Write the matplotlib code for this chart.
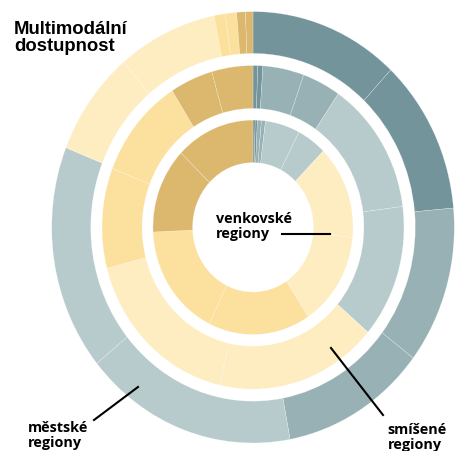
import matplotlib.pyplot as plt
from matplotlib.lines import Line2D

# Share of population by accessibility level, two sub-groups per level
levels = ['velmi vysoká', 'vysoká', 'střední', 'nízká', 'velmi nízká', 'žádná']
colors = ['#73949a', '#98b1b5', '#b7cbcc', '#feedc1', '#fce09d', '#dbb86d']

urban = [12.0, 11.6, 11.8, 11.7, 17.1, 16.9, 7.9, 8.0, 0.9, 0.9, 0.7, 0.6]
mixed = [0.5, 0.55, 4.4, 4.1, 13.4, 13.3, 17.3, 17.4, 10.0, 10.1, 4.6, 4.4]
rural = [0.35, 0.35, 0.65, 0.65, 5.6, 4.8, 14.1, 14.2, 16.5, 17.1, 12.9, 12.8]

ring_colors = [c for c in colors for _ in range(2)]

W, H = 455, 451
fig = plt.figure(figsize=(W / 100, H / 100), dpi=100)
ax = fig.add_axes([51.7 / W, 1 - 443 / H, 402.6 / W, 431.4 / H])

wp = dict(edgecolor=(1, 1, 1, 0.6), linewidth=0.25)
ax.pie(urban, radius=1.0, colors=ring_colors, startangle=90, counterclock=False,
       wedgeprops=dict(width=0.194, **wp))
ax.pie(mixed, radius=0.75, colors=ring_colors, startangle=90, counterclock=False,
       wedgeprops=dict(width=0.199, **wp))
ax.pie(rural, radius=0.497, colors=ring_colors, startangle=90, counterclock=False,
       wedgeprops=dict(width=0.197, **wp))
ax.set_aspect('auto')
ax.set_xlim(-1, 1)
ax.set_ylim(-1, 1)
ax.axis('off')


def fx(px):
    return px / W


def fy(py):
    return 1 - py / H


fig.text(fx(14), fy(21), 'Multimodální\ndostupnost', family='Liberation Sans',
         fontweight='bold', fontsize=13.3, va='top', ha='left', linespacing=1.02)

label_kw = dict(family='Open Sans', fontweight='bold', fontsize=10.4,
                va='top', ha='left', linespacing=1.15)
fig.text(fx(216), fy(211.5), 'venkovské\nregiony', **label_kw)
fig.text(fx(27.5), fy(420.5), 'městské\nregiony', **label_kw)
fig.text(fx(387.5), fy(422.5), 'smíšené\nregiony', **label_kw)

leaders = [((282, 234.3), (330, 234.3)),
           ((331, 348), (383, 415)),
           ((138, 387), (94, 420))]
for (x0, y0), (x1, y1) in leaders:
    fig.add_artist(Line2D([fx(x0), fx(x1)], [fy(y0), fy(y1)], color='black',
                          lw=1.5, transform=fig.transFigure))

fig.savefig('out.png', dpi=100)
